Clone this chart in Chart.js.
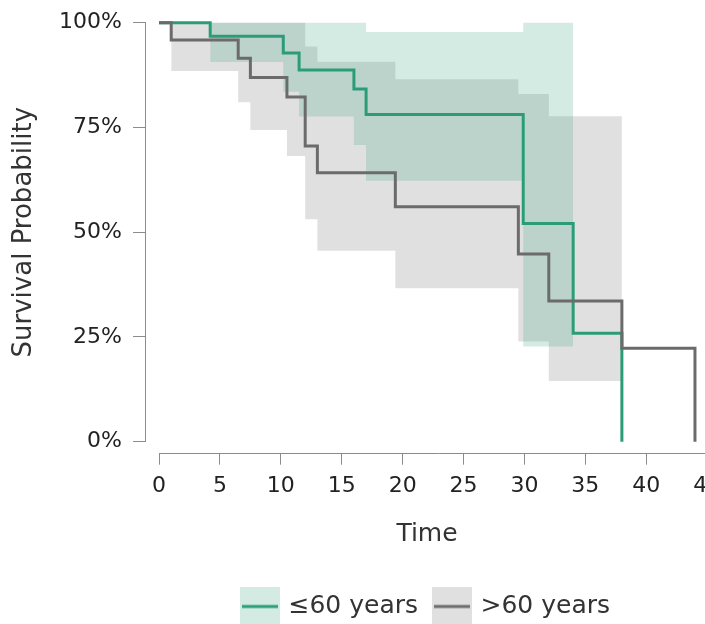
<!DOCTYPE html>
<html>
<head>
<meta charset="utf-8">
<script src="https://cdn.jsdelivr.net/npm/chart.js@4.4.1/dist/chart.umd.min.js"></script>
<style>
  html, body { margin: 0; padding: 0; background: #fff; overflow: hidden; }
  #wrap { position: relative; width: 854px; height: 629px; }
</style>
</head>
<body>
<div id="wrap"><canvas id="km"></canvas></div>
<script>
// Kaplan-Meier steps (time, survival)
const greenTimes = [0, 4.2, 10.2, 11.5, 16, 17, 29.9, 34, 38];
const greenSurv  = [1, 0.968, 0.928, 0.887, 0.842, 0.781, 0.521, 0.259, 0];
const grayTimes  = [0, 1, 6.5, 7.5, 10.5, 12, 13, 19.4, 29.5, 32, 38, 44];
const graySurv   = [1, 0.959, 0.915, 0.869, 0.823, 0.706, 0.642, 0.561, 0.448, 0.336, 0.223, 0];

// confidence bands
const greenUpperTimes = [4.2, 17, 29.9, 34];
const greenUpper      = [1, 0.978, 1, 1];
const greenLowerTimes = [4.2, 10.2, 11.5, 16, 17, 29.9, 34];
const greenLower      = [0.906, 0.835, 0.776, 0.708, 0.623, 0.227, 0.227];
const grayUpperTimes  = [1, 12, 13, 19.4, 29.5, 32, 38];
const grayUpper       = [1, 0.943, 0.907, 0.865, 0.830, 0.777, 0.777];
const grayLowerTimes  = [1, 6.5, 7.5, 10.5, 12, 13, 19.4, 29.5, 32, 38];
const grayLower       = [0.885, 0.810, 0.744, 0.682, 0.531, 0.456, 0.366, 0.239, 0.145, 0.145];

const groupLabels = ['\u226460 years', '>60 years'];
const xTicks = [0, 5, 10, 15, 20, 25, 30, 35, 40, 45];
const yTicks = [0, 0.25, 0.5, 0.75, 1];

const GREEN = '#2a9d78';
const GRAY = '#6b6b6b';
const GREEN_BAND = 'rgba(42, 157, 120, 0.2)';
const GRAY_BAND = 'rgba(100, 100, 100, 0.2)';
const AXIS = '#8c8c8c';
const FONT = 'DejaVu Sans';

const pts = (xs, ys) => xs.map((x, i) => ({ x: x, y: ys[i] }));

function legendSwatch(fill, line) {
    const c = document.createElement('canvas');
    c.width = 40;
    c.height = 40;
    const ctx = c.getContext('2d');
    ctx.fillStyle = fill;
    ctx.fillRect(0, 0, 40, 40);
    ctx.strokeStyle = line;
    ctx.lineWidth = 3;
    ctx.beginPath();
    ctx.moveTo(2, 20);
    ctx.lineTo(38, 20);
    ctx.stroke();
    return c;
}

// axis lines only over the data range (0..1 on y, from 0 on x)
const splitAxes = {
    id: 'splitAxes',
    afterDraw(chart) {
        const { ctx, chartArea, scales } = chart;
        ctx.save();
        ctx.strokeStyle = AXIS;
        ctx.lineWidth = 1;
        ctx.beginPath();
        const yb = Math.round(chartArea.bottom) + 0.5;
        ctx.moveTo(scales.x.getPixelForValue(xTicks[0]), yb);
        ctx.lineTo(chartArea.right + 10, yb);
        const xl = Math.round(chartArea.left) - 0.5;
        ctx.moveTo(xl, scales.y.getPixelForValue(yTicks[0]));
        ctx.lineTo(xl, scales.y.getPixelForValue(yTicks[yTicks.length - 1]));
        ctx.stroke();
        ctx.restore();
    }
};

const lineBase = { stepped: true, pointRadius: 0, borderWidth: 3, fill: false };
const bandBase = { stepped: true, pointRadius: 0, borderWidth: 0 };

new Chart(document.getElementById('km'), {
    type: 'line',
    data: {
        datasets: [
            { ...lineBase, label: groupLabels[1], data: pts(grayTimes, graySurv), borderColor: GRAY, order: 0 },
            { ...lineBase, label: groupLabels[0], data: pts(greenTimes, greenSurv), borderColor: GREEN, order: 1 },
            { ...bandBase, label: 'g-up', data: pts(greenUpperTimes, greenUpper), backgroundColor: GREEN_BAND, fill: 3, order: 2 },
            { ...bandBase, label: 'g-lo', data: pts(greenLowerTimes, greenLower), fill: false, order: 3 },
            { ...bandBase, label: 'x-up', data: pts(grayUpperTimes, grayUpper), backgroundColor: GRAY_BAND, fill: 5, order: 4 },
            { ...bandBase, label: 'x-lo', data: pts(grayLowerTimes, grayLower), fill: false, order: 5 }
        ]
    },
    options: {
        responsive: true,
        maintainAspectRatio: false,
        animation: false,
        layout: { padding: { top: 11.7, left: 0, right: 0, bottom: 0 } },
        plugins: {
            tooltip: { enabled: false },
            legend: {
                position: 'bottom',
                labels: {
                    usePointStyle: true,
                    pointStyleWidth: 32,
                    padding: 18,
                    color: '#333',
                    font: { family: FONT, size: 25 },
                    generateLabels: () => [
                        { text: groupLabels[0], pointStyle: legendSwatch('#d4ebe4', GREEN), fontColor: '#333', lineWidth: 0, datasetIndex: 1 },
                        { text: groupLabels[1], pointStyle: legendSwatch('#e0e0e0', GRAY), fontColor: '#333', lineWidth: 0, datasetIndex: 0 }
                    ]
                }
            }
        },
        scales: {
            x: {
                type: 'linear',
                min: -1.07,
                max: 45.07,
                afterBuildTicks: (s) => { s.ticks = xTicks.map(v => ({ value: v })); },
                afterFit: (s) => { s.height = 123.3; },
                border: { display: false },
                grid: { drawOnChartArea: false, drawTicks: true, tickLength: 12, tickColor: AXIS, tickWidth: 1 },
                ticks: { color: '#222', padding: 8, maxRotation: 0, font: { family: FONT, size: 22 } },
                title: { display: true, text: 'Time', color: '#333', font: { family: FONT, size: 25 }, padding: { top: 0, bottom: 27 } }
            },
            y: {
                min: -0.0263,
                max: 1.0263,
                afterBuildTicks: (s) => { s.ticks = yTicks.map(v => ({ value: v })); },
                afterFit: (s) => { s.width = 146; },
                border: { display: false },
                grid: { drawOnChartArea: false, drawTicks: true, tickLength: 13, tickColor: AXIS, tickWidth: 1 },
                // tiny lineHeight so the labels don't push the plot top down
                ticks: { color: '#222', padding: 11, font: { family: FONT, size: 22, lineHeight: 0.03 }, callback: (v) => Math.round(v * 100) + '%' },
                title: { display: true, text: 'Survival Probability', color: '#333', font: { family: FONT, size: 26 }, padding: { top: 9, bottom: 0 } }
            },
            // empty right-hand strip so the plot panel ends where the original was cropped
            spacer: {
                position: 'right',
                display: true,
                afterFit: (s) => { s.width = 146; },
                border: { display: false },
                grid: { display: false },
                ticks: { display: false }
            }
        }
    },
    plugins: [splitAxes]
});
</script>
</body>
</html>
